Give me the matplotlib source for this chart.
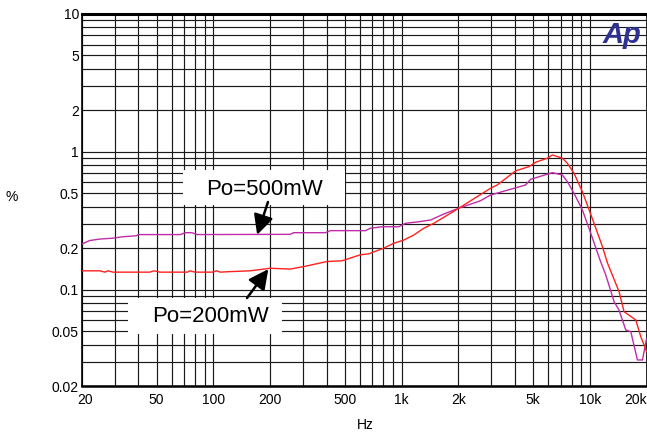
import matplotlib
matplotlib.use('Agg')
import matplotlib.pyplot as plt
import numpy as np
from matplotlib.ticker import FixedLocator, FixedFormatter, NullFormatter, LogLocator
from matplotlib.patches import Rectangle
from matplotlib.transforms import ScaledTranslation

plt.rcParams['font.family'] = ['Liberation Sans', 'DejaVu Sans']

# ---- data ----
freq_500 = [20, 22, 25, 29, 33, 39, 40, 67, 71, 77, 82, 256, 267, 394, 419, 643, 683,
            789, 966, 1049, 1234, 1425, 1677, 2015, 2628, 2970, 4560, 4848, 5264, 6325,
            7146, 7600, 8240, 9132, 10108, 11330, 12150, 13450, 14300, 15520, 16500,
            17900, 19040, 20000]
thd_500 = [0.214, 0.227, 0.233, 0.236, 0.242, 0.246, 0.251, 0.251, 0.259, 0.259, 0.251,
           0.252, 0.259, 0.259, 0.268, 0.268, 0.279, 0.286, 0.286, 0.303, 0.311, 0.320,
           0.354, 0.390, 0.442, 0.486, 0.575, 0.632, 0.654, 0.706, 0.679, 0.608, 0.500,
           0.379, 0.257, 0.164, 0.128, 0.082, 0.071, 0.051, 0.0496, 0.0309, 0.0309, 0.044]

freq_200 = [20, 25, 26.6, 27.6, 29.3, 46, 48.5, 52, 73, 75, 80, 99, 104, 109, 120, 157,
            201, 256, 302, 402, 483, 604, 669, 804, 909, 1027, 1161, 1312, 1484, 2015,
            2970, 3225, 4036, 4748, 5155, 5948, 6325, 7146, 7600, 8240, 9132, 10530,
            11670, 12410, 14300, 15200, 17540, 18650, 19420, 20000]
thd_200 = [0.137, 0.137, 0.134, 0.137, 0.134, 0.134, 0.137, 0.134, 0.134, 0.137, 0.134,
           0.134, 0.137, 0.134, 0.135, 0.137, 0.143, 0.141, 0.147, 0.160, 0.162, 0.179,
           0.182, 0.200, 0.217, 0.229, 0.249, 0.279, 0.303, 0.390, 0.544, 0.575, 0.727,
           0.781, 0.840, 0.899, 0.949, 0.899, 0.826, 0.699, 0.514, 0.303, 0.205, 0.156,
           0.0967, 0.0692, 0.0603, 0.0456, 0.0397, 0.0355]

xticks = [20, 50, 100, 200, 500, 1000, 2000, 5000, 10000, 20000]
xticklabels = ['20', '50', '100', '200', '500', '1k', '2k', '5k', '10k', '20k']
yticks = [0.02, 0.05, 0.1, 0.2, 0.5, 1, 2, 5, 10]
yticklabels = ['0.02', '0.05', '0.1', '0.2', '0.5', '1', '2', '5', '10']

label_500 = 'Po=500mW'
label_200 = 'Po=200mW'

# ---- figure ----
W, H = 647, 436
fig = plt.figure(figsize=(W / 100, H / 100), dpi=100)
ax = fig.add_axes([81.7 / W, 1 - 386 / H, (646.5 - 81.7) / W, (386 - 14) / H])
ax.set_xscale('log')
ax.set_yscale('log')
ax.set_xlim(20, 20000)
ax.set_ylim(0.02, 10)

ax.xaxis.set_major_locator(FixedLocator(xticks))
ax.xaxis.set_major_formatter(FixedFormatter(xticklabels))
ax.xaxis.set_minor_locator(LogLocator(base=10, subs=np.arange(1, 10), numticks=50))
ax.xaxis.set_minor_formatter(NullFormatter())
ax.yaxis.set_major_locator(FixedLocator(yticks))
ax.yaxis.set_major_formatter(FixedFormatter(yticklabels))
ax.yaxis.set_minor_locator(LogLocator(base=10, subs=np.arange(1, 10), numticks=50))
ax.yaxis.set_minor_formatter(NullFormatter())

ax.grid(True, which='both', color='#1a1a1a', lw=0.85)
ax.tick_params(which='both', length=0, labelsize=10, colors='black')
ax.tick_params(axis='x', pad=5)
ax.tick_params(axis='y', pad=2)

ax.spines['top'].set_linewidth(2.2)
ax.spines['bottom'].set_linewidth(1.8)
ax.spines['left'].set_linewidth(1.2)
ax.spines['right'].set_linewidth(1.2)

xl = ax.get_xticklabels()
xl[-1].set_ha('right')
xl[0].set_transform(xl[0].get_transform() + ScaledTranslation(0.03, 0, fig.dpi_scale_trans))

ax.plot(freq_500, thd_500, color='#c02ca8', lw=1.0, zorder=3)
ax.plot(freq_200, thd_200, color='#ff2020', lw=1.0, zorder=3)

# label boxes
ax.add_patch(Rectangle((183 / W, 1 - 205 / H), 162 / W, 35 / H, transform=fig.transFigure,
                       facecolor='white', edgecolor='none', zorder=2.6, clip_on=False))
ax.add_patch(Rectangle((128 / W, 1 - 334 / H), 154 / W, 36 / H, transform=fig.transFigure,
                       facecolor='white', edgecolor='none', zorder=2.6, clip_on=False))
fig.text(264 / W, 1 - 195 / H, label_500, ha='center', va='baseline', fontsize=16, zorder=5)
fig.text(210 / W, 1 - 322 / H, label_200, ha='center', va='baseline', fontsize=16, zorder=5)

ax.annotate('', xy=(171, 0.25), xycoords='data', xytext=(268, H - 202), textcoords='figure pixels',
            arrowprops=dict(arrowstyle='-|>', color='black', lw=1.8, mutation_scale=30,
                            shrinkA=0, shrinkB=0), zorder=6)
ax.annotate('', xy=(196, 0.141), xycoords='data', xytext=(247, H - 298), textcoords='figure pixels',
            arrowprops=dict(arrowstyle='-|>', color='black', lw=1.8, mutation_scale=30,
                            shrinkA=0, shrinkB=0), zorder=6)

# axis labels
fig.text(12 / W, 1 - 197 / H, '%', ha='center', va='center', fontsize=10)
fig.text(365 / W, 1 - 425 / H, 'Hz', ha='center', va='center', fontsize=10)

# logo
fig.text(603 / W, 1 - 43 / H, 'Ap', color='#2e3192', fontsize=21, fontweight='bold',
         fontstyle='italic', ha='left', va='baseline', zorder=6)

fig.savefig('out.png', dpi=100)
